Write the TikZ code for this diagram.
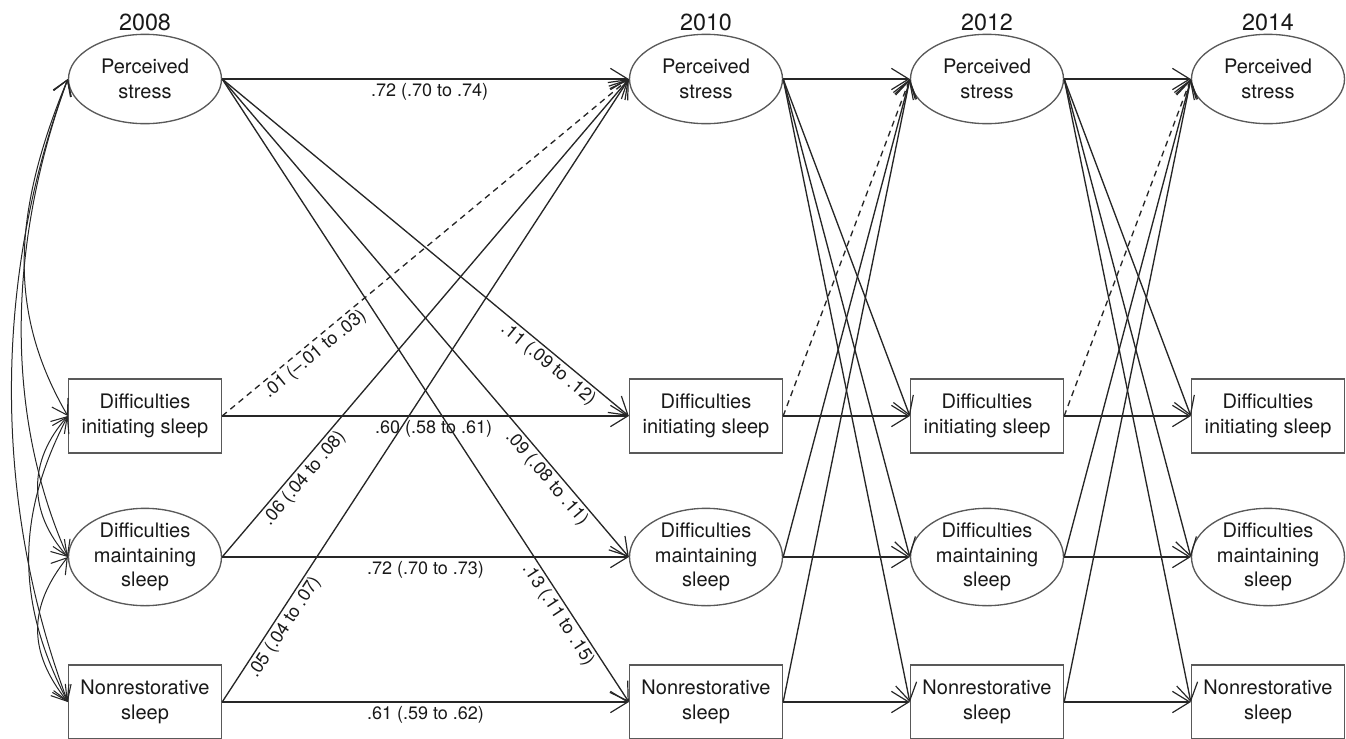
\documentclass[tikz,border=0pt]{standalone}
\usepackage{fontspec}
\setmainfont{TeX Gyre Heros}
\usetikzlibrary{arrows.meta,shapes.geometric}
\begin{document}
\begin{tikzpicture}[x=0.75pt,y=-0.75pt,
  nodefont/.style={font=\fontsize{15}{18.5}\selectfont,text=black!90},
  ell/.style={ellipse,draw=black!65,line width=1pt,minimum width=114.75pt,minimum height=67pt,inner sep=0pt,align=center,nodefont},
  ellthree/.style={ell,minimum height=73pt},
  rectnode/.style={rectangle,draw=black!65,line width=1pt,minimum width=114.75pt,minimum height=55.5pt,inner sep=0pt,align=center,nodefont},
  yr/.style={font=\fontsize{17.5}{20}\selectfont,text=black!90},
  arr/.style={draw=black!85,line width=1pt,-{Straight Barb[length=13pt,width=16pt,line width=0.9pt]}},
  darr/.style={arr,dash pattern=on 4.5pt off 3.5pt},
  corr/.style={draw=black!85,line width=0.75pt,{Straight Barb[length=11pt,width=14pt,line width=0.8pt]}-{Straight Barb[length=11pt,width=14pt,line width=0.8pt]}},
  lab/.style={font=\fontsize{13.5}{16}\selectfont,text=black!90,inner sep=2pt}
]
\useasboundingbox (0,0) rectangle (1346,739);

% year labels
\node[yr] (y1) at (145,22) {2008};
\node[yr] (y2) at (706,22) {2010};
\node[yr] (y3) at (987,22) {2012};
\node[yr] (y4) at (1268,22) {2014};

% nodes
\foreach \i/\x in {1/145,2/706,3/987,4/1268} {
  \node[ell] (ps\i) at (\x,79) {Perceived\\stress};
  \node[rectnode] (dis\i) at (\x,416) {Difficulties\\initiating sleep};
  \node[ellthree] (dms\i) at (\x,557) {Difficulties\\maintaining\\sleep};
  \node[rectnode] (nr\i) at (\x,702) {Nonrestorative\\sleep};
}

% 2008 -> 2010 with estimates
\draw[arr] (ps1.east) -- node[lab,below=1pt,pos=0.51]{.72 (.70 to .74)} (ps2.west);
\draw[arr] (dis1.east) -- node[lab,below=1pt,pos=0.52]{.60 (.58 to .61)} (dis2.west);
\draw[arr] (dms1.east) -- node[lab,below=1pt,pos=0.5]{.72 (.70 to .73)} (dms2.west);
\draw[arr] (nr1.east) -- node[lab,below=1pt,pos=0.5]{.61 (.59 to .62)} (nr2.west);
\draw[darr] (dis1.east) -- node[lab,sloped,below,pos=0.21]{.01 (–.01 to .03)} (ps2.west);
\draw[arr] (ps1.east) -- node[lab,sloped,below,pos=0.82]{.11 (.09 to .12)} (dis2.west);
\draw[arr] (ps1.east) -- node[lab,sloped,below,pos=0.82]{.09 (.08 to .11)} (dms2.west);
\draw[arr] (ps1.east) -- node[lab,sloped,below,pos=0.85]{.13 (.11 to .15)} (nr2.west);
\draw[arr] (dms1.east) -- node[lab,sloped,below,pos=0.18]{.06 (.04 to .08)} (ps2.west);
\draw[arr] (nr1.east) -- node[lab,sloped,below,pos=0.13]{.05 (.04 to .07)} (ps2.west);

% later waves
\foreach \a/\b in {2/3,3/4} {
  \draw[arr] (ps\a.east) -- (ps\b.west);
  \draw[arr] (ps\a.east) -- (dis\b.west);
  \draw[arr] (ps\a.east) -- (dms\b.west);
  \draw[arr] (ps\a.east) -- (nr\b.west);
  \draw[arr] (dis\a.east) -- (dis\b.west);
  \draw[darr] (dis\a.east) -- (ps\b.west);
  \draw[arr] (dms\a.east) -- (dms\b.west);
  \draw[arr] (dms\a.east) -- (ps\b.west);
  \draw[arr] (nr\a.east) -- (nr\b.west);
  \draw[arr] (nr\a.east) -- (ps\b.west);
}

% correlations among 2008 measures
\draw[corr] (ps1.west) .. controls +(-75,200) and +(-75,-200) .. (nr1.west);
\draw[corr] (ps1.west) .. controls +(-62,170) and +(-62,-140) .. (dms1.west);
\draw[corr] (ps1.west) .. controls +(-58,140) and +(-58,-100) .. (dis1.west);
\draw[corr] (dis1.west) .. controls +(-40,45) and +(-40,-45) .. (dms1.west);
\draw[corr] (dis1.west) .. controls +(-52,100) and +(-52,-100) .. (nr1.west);
\draw[corr] (dms1.west) .. controls +(-40,50) and +(-40,-50) .. (nr1.west);
\end{tikzpicture}
\end{document}
